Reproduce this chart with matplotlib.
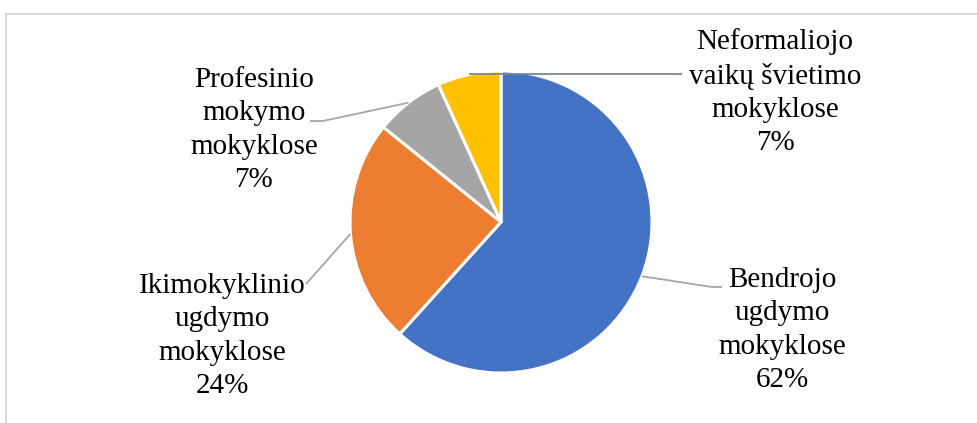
import numpy as np
import matplotlib.pyplot as plt
from matplotlib.patches import Rectangle

# shares of schools, clockwise from 12 o'clock
labels = ['Bendrojo\nugdymo\nmokyklose', 'Ikimokyklinio\nugdymo\nmokyklose',
          'Profesinio\nmokymo\nmokyklose', 'Neformaliojo\nvaikų švietimo\nmokyklose']
values = [61.7, 24.1, 7.4, 6.8]
shown = ['62%', '24%', '7%', '7%']
colors = ['#4472C4', '#ED7D31', '#A5A5A5', '#FFC000']

W, H = 978, 423
plt.rcParams['font.family'] = ['Liberation Serif', 'DejaVu Serif']

fig = plt.figure(figsize=(W / 100, H / 100), dpi=100)
ax = fig.add_axes([0, 0, 1, 1])

cx, cy, r = 501, H - 222, 151
wedges, _ = ax.pie(values, colors=colors, startangle=90, counterclock=False,
                   center=(cx, cy), radius=r,
                   wedgeprops=dict(edgecolor='white', linewidth=2.2))

ax.set_xlim(0, W)
ax.set_ylim(0, H)
ax.set_aspect('auto')
ax.axis('off')

# label centre (px from top-left), elbow point, end of leader line
# elbow y None -> horizontal line from the wedge
layout = [
    dict(text=(782, 330), elbow=(712, 287), end=(722, 287)),
    dict(text=(222, 336), elbow=(306, 284), end=(306, 284)),
    dict(text=(254, 130), elbow=(323, 121), end=(310, 121)),
    dict(text=(775, 92), elbow=(682, None), end=(682, None)),
]
line_colors = ['#A6A6A6', '#A6A6A6', '#A6A6A6', '#7F8694']

for w, lab, pct, lay, lc in zip(wedges, labels, shown, layout, line_colors):
    ang = np.deg2rad((w.theta1 + w.theta2) / 2)
    x0 = cx + r * np.cos(ang)
    y0 = cy + r * np.sin(ang)
    ex, ey = lay['elbow']
    fx, fy = lay['end']
    ey = y0 if ey is None else H - ey
    fy = y0 if fy is None else H - fy
    ax.plot([x0, ex, fx], [y0, ey, fy], color=lc, lw=1.3,
            solid_capstyle='butt', zorder=3)
    tx, ty = lay['text']
    ax.text(tx, H - ty, lab + '\n' + pct, ha='center', va='center',
            fontsize=21, linespacing=1.36, color='black')

ax.add_patch(Rectangle((6, -20), W, H - 14 + 20, fill=False,
                       edgecolor='#D9D9D9', lw=1.5, clip_on=False))

fig.savefig('out.png', dpi=100)
